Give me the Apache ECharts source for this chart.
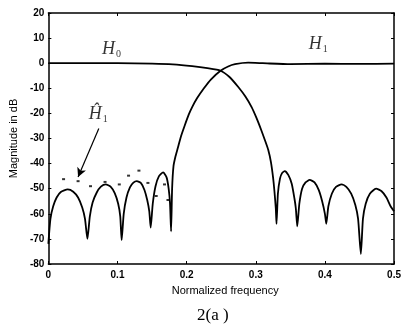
<!DOCTYPE html>
<html>
<head>
<meta charset="utf-8">
<script src="https://cdn.jsdelivr.net/npm/echarts@6/dist/echarts.min.js"></script>
<style>html,body{margin:0;padding:0;background:#fff;}#c{width:404px;height:329px;}</style>
</head>
<body>
<div id="c"></div>
<script>
// Normalized frequency / magnitude (dB) pairs
const h0Freq = [0,0.05,0.1,0.15,0.18,0.208,0.23,0.249,0.262,0.275,0.285,0.294,0.301,0.308,0.313,0.318,0.322,0.325,0.327,0.329,0.33,
  0.332,0.335,0.338,0.342,0.347,0.352,0.356,0.358,0.36,
  0.363,0.367,0.372,0.378,0.385,0.391,0.396,0.4,0.402,
  0.405,0.41,0.416,0.424,0.431,0.438,0.444,0.448,0.452,
  0.455,0.459,0.465,0.474,0.482,0.489,0.495,0.5];
const h0Mag = [0,0,0,-0.2,-0.5,-1.2,-2,-3,-5.5,-9.6,-13.3,-17.5,-21.8,-26.7,-30.5,-34.5,-39.5,-45.5,-51,-58,-64,
  -52,-46,-43.8,-43,-44.5,-48,-54,-58,-65,
  -56,-50,-47.5,-46.5,-47.5,-50.5,-55,-60,-64,
  -57,-52,-49.3,-48.3,-49.3,-52,-56.5,-62,-76,
  -62,-56,-52,-50,-51,-53.5,-57,-59];

const h1Freq = [0,0.003,0.007,0.012,0.018,0.028,0.036,0.043,0.049,0.053,0.0565,
  0.06,0.064,0.07,0.076,0.083,0.09,0.096,0.101,0.104,0.106,
  0.109,0.113,0.118,0.123,0.128,0.134,0.139,0.143,0.146,0.148,
  0.151,0.155,0.16,0.166,0.171,0.174,0.176,0.1775,
  0.179,0.181,0.184,0.187,0.192,0.197,0.203,0.208,0.215,0.225,0.235,0.249,0.26,0.27,0.289,0.31,0.35,0.4,0.45,0.5];
const h1Mag = [-72,-62,-57,-53.5,-51.3,-50.3,-51.2,-53.5,-57.5,-62,-70,
  -61,-55.5,-51.5,-49.2,-48.3,-49.2,-51.8,-56,-61,-70.5,
  -60,-53.5,-49.5,-47.6,-47,-47.8,-50.5,-54.5,-59,-65.5,
  -56,-49,-45,-43.5,-45.5,-50,-56,-67,
  -50,-41,-37,-34,-29,-25,-20.5,-17.5,-14,-10,-6.5,-3,-1.3,-0.4,0.2,0,-0.4,-0.2,-0.3,-0.2];

// estimated H1-hat marks (sparse dots/dashes)
const hatFreq = [0.022,0.043,0.061,0.082,0.1026,0.116,0.131,0.144,0.156,0.168,0.173];
const hatMag  = [-46.2,-47,-49,-47.3,-48.3,-44.8,-42.8,-47.7,-52.9,-48.3,-54.5];

const xTicks = [0,0.1,0.2,0.3,0.4,0.5];
const yTicks = [20,10,0,-10,-20,-30,-40,-50,-60,-70,-80];

// annotation anchors (data units)
const labelH0 = [0.087, 5.7];
const labelH1 = [0.386, 7.6];
const labelH1hat = [0.068, -20.5];
const arrowFrom = [0.073, -26];
const arrowTo = [0.043, -45.3];

const zip = (a, b) => a.map((v, i) => [v, b[i]]);

const chart = echarts.init(document.getElementById('c'), null, {renderer: 'canvas'});
const axisLine = {show: true, onZero: false, lineStyle: {color: '#000', width: 1.5}};
const tickFont = {fontFamily: 'Liberation Sans, Arial, sans-serif', fontWeight: 'bold', fontSize: 10, color: '#000'};
const serif = 'Liberation Serif, Times New Roman, serif';
function textSeries(pos, main, sub) {
  return {
    type: 'scatter', symbolSize: 0, silent: true, z: 5,
    data: [
      {value: pos, label: {show: true, position: 'inside', formatter: main,
        fontFamily: serif, fontStyle: 'italic', fontSize: 18, color: '#000'}},
      {value: pos, label: {show: true, position: 'inside', formatter: sub, offset: [10, 5],
        fontFamily: serif, fontSize: 10, color: '#000'}}
    ]
  };
}

chart.setOption({
  animation: false,
  backgroundColor: '#fff',
  grid: {left: 47, right: 6, top: 13, bottom: 65, containLabel: false},
  xAxis: [
    {type: 'value', min: 0, max: 0.5, interval: 0.1, position: 'bottom',
     name: 'Normalized frequency', nameLocation: 'middle', nameGap: 21,
     nameTextStyle: {fontFamily: 'Liberation Sans, Arial, sans-serif', fontSize: 11, color: '#000', padding: [0, 0, 0, 8]},
     axisLine: axisLine, axisTick: {inside: true, length: 3, lineStyle: {color: '#000'}},
     axisLabel: Object.assign({margin: 6, formatter: v => xTicks.includes(+v.toFixed(1)) ? String(+v.toFixed(1)) : ''}, tickFont),
     splitLine: {show: false}},
    {type: 'value', min: 0, max: 0.5, interval: 0.1, position: 'top',
     axisLine: axisLine, axisTick: {inside: true, length: 3, lineStyle: {color: '#000'}},
     axisLabel: {show: false}, splitLine: {show: false}}
  ],
  yAxis: [
    {type: 'value', min: -80, max: 20, interval: 10, position: 'left',
     name: 'Magnitude in dB', nameLocation: 'middle', nameGap: 27,
     nameTextStyle: {fontFamily: 'Liberation Sans, Arial, sans-serif', fontSize: 11, color: '#000'},
     axisLine: axisLine, axisTick: {inside: true, length: 3, lineStyle: {color: '#000'}},
     axisLabel: Object.assign({margin: 4, formatter: v => yTicks.includes(v) ? String(v) : ''}, tickFont),
     splitLine: {show: false}},
    {type: 'value', min: -80, max: 20, interval: 10, position: 'right',
     axisLine: axisLine, axisTick: {inside: true, length: 3, lineStyle: {color: '#000'}},
     axisLabel: {show: false}, splitLine: {show: false}}
  ],
  series: [
    {type: 'line', name: 'H0', data: zip(h0Freq, h0Mag), showSymbol: false, smooth: 0.2,
     lineStyle: {color: '#000', width: 1.8}},
    {type: 'line', name: 'H1', data: zip(h1Freq, h1Mag), showSymbol: false, smooth: 0.2,
     lineStyle: {color: '#000', width: 1.8}},
    {type: 'scatter', name: 'H1hat', data: zip(hatFreq, hatMag), symbol: 'rect', symbolSize: [3, 2],
     itemStyle: {color: '#000'},
     markLine: {silent: true, symbol: ['none', 'arrow'], symbolSize: [7, 9],
       lineStyle: {color: '#000', width: 1.2, type: 'solid'}, label: {show: false},
       data: [[{coord: arrowFrom}, {coord: arrowTo}]]}},
    textSeries(labelH0, 'H', '0'),
    textSeries(labelH1, 'H', '1'),
    textSeries(labelH1hat, 'Ĥ', '1')
  ],
  graphic: [
    {type: 'text', left: 197, top: 307, style: {text: '2(a )', fontFamily: serif, fontSize: 17, fill: '#000'}}
  ]
});
</script>
</body>
</html>
